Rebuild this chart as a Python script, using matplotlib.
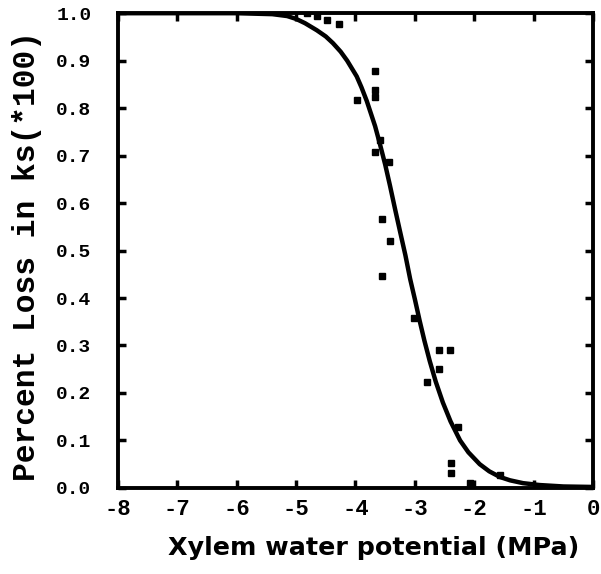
import matplotlib
matplotlib.use("Agg")
import matplotlib.pyplot as plt

# measured points (xylem water potential, fractional loss)
obs_x = [-4.82, -4.65, -4.48, -4.28, -3.67, -3.67, -3.67, -3.98, -3.59, -3.67,
         -3.44, -3.56, -3.42, -3.56, -3.01, -2.60, -2.41, -2.60, -2.80, -2.28,
         -2.39, -2.39, -2.08, -1.57]
obs_y = [1.0, 0.995, 0.985, 0.977, 0.878, 0.838, 0.823, 0.817, 0.733, 0.707,
         0.686, 0.566, 0.520, 0.446, 0.358, 0.29, 0.29, 0.25, 0.223, 0.128,
         0.053, 0.032, 0.010, 0.027]

# fitted curve
fit_x = [-8, -6, -5.4, -5.15, -5.0, -4.85, -4.65, -4.5, -4.38, -4.25, -4.14,
         -3.98, -3.9, -3.81, -3.67, -3.59, -3.5, -3.42, -3.33, -3.25, -3.16,
         -3.08, -3.0, -2.92, -2.84, -2.75, -2.65, -2.53, -2.4, -2.24, -2.1,
         -1.91, -1.75, -1.57, -1.4, -1.18, -0.9, -0.5, 0]
fit_y = [1.0, 1.0, 0.998, 0.994, 0.988, 0.979, 0.964, 0.951, 0.937, 0.919, 0.90,
         0.867, 0.844, 0.815, 0.762, 0.725, 0.681, 0.637, 0.585, 0.54, 0.49,
         0.44, 0.397, 0.352, 0.31, 0.267, 0.224, 0.18, 0.14, 0.1, 0.075,
         0.05, 0.035, 0.023, 0.016, 0.01, 0.006, 0.003, 0.002]

x_ticks = [-8, -7, -6, -5, -4, -3, -2, -1, 0]
y_ticks = [0.0, 0.1, 0.2, 0.3, 0.4, 0.5, 0.6, 0.7, 0.8, 0.9, 1.0]

fig = plt.figure(figsize=(6.01, 5.74), dpi=100)
ax = fig.add_axes([0.196, 0.150, 0.791, 0.827])

ax.plot(fit_x, fit_y, color="black", lw=3.2, solid_capstyle="round",
        solid_joinstyle="round", zorder=3)
ax.plot(obs_x, obs_y, "s", color="black", ms=5, zorder=4)

ax.set_xlim(-8, 0)
ax.set_ylim(0, 1.0)
ax.set_xticks(x_ticks)
ax.set_yticks(y_ticks)
ax.set_xticklabels([str(v) if v == 0 else "-" + str(-v) for v in x_ticks],
                   fontfamily="Liberation Mono", fontweight="bold", fontsize=16)
ax.set_yticklabels(["%.1f" % v for v in y_ticks],
                   fontfamily="Liberation Mono", fontweight="bold", fontsize=14)

for s in ax.spines.values():
    s.set_linewidth(2.8)
ax.tick_params(direction="in", length=6, width=2.5, top=True, right=True)
ax.tick_params(axis="x", pad=8)
ax.tick_params(axis="y", pad=19)

fig.text(0.045, 0.554, "Percent Loss in ks(*100)", rotation=90,
         ha="center", va="center", fontfamily="Liberation Mono",
         fontweight="bold", fontsize=22.5)
fig.text(0.622, 0.045, "Xylem water potential (MPa)", ha="center",
         va="center", fontfamily="DejaVu Sans", fontweight="bold",
         fontsize=18.3)

fig.savefig("out.png", dpi=100)
